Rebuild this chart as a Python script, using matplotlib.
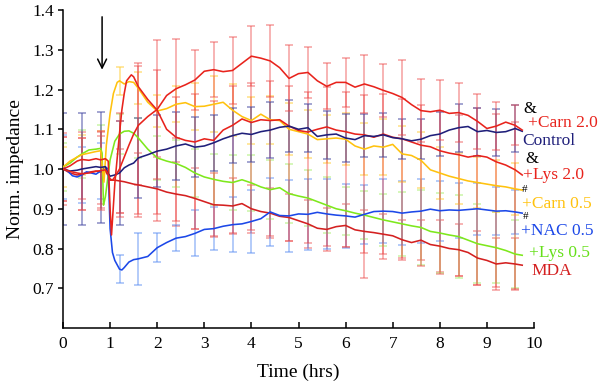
import numpy as np
import matplotlib
matplotlib.use("Agg")
import matplotlib.pyplot as plt

plt.rcParams['font.family'] = ['Liberation Serif', 'DejaVu Serif']

# ---------------- data ----------------
T_LATE = [1.6, 1.8, 2.0, 2.2, 2.4, 2.6, 2.8, 3.0, 3.2, 3.4, 3.6, 3.8, 4.0, 4.2, 4.4,
          4.6, 4.8, 5.0, 5.2, 5.4, 5.6, 5.8, 6.0, 6.2, 6.4, 6.6, 6.8, 7.0, 7.2, 7.4,
          7.6, 7.8, 8.0, 8.2, 8.4, 8.6, 8.8, 9.0, 9.2, 9.4, 9.6, 9.75]

# error-bar sample times (hrs)
T_ERR = [0.0, 0.4, 0.8, 1.2, 1.6, 2.0, 2.4, 2.8, 3.2, 3.6, 4.0, 4.4, 4.8, 5.2, 5.6,
         6.0, 6.4, 6.8, 7.2, 7.6, 8.0, 8.4, 8.8, 9.2, 9.6]

control_t_early = [0, 0.15, 0.3, 0.4, 0.55, 0.7, 0.8, 0.9, 0.95, 1.0, 1.1, 1.2, 1.3, 1.4, 1.5]
control_v_early = [1.0, 0.995, 0.997, 1.0, 1.003, 1.006, 1.004, 1.006, 0.99, 0.982, 0.985, 0.99, 1.003, 1.01, 1.015]
control_v_late = [1.028, 1.036, 1.045, 1.05, 1.058, 1.063, 1.055, 1.058, 1.066, 1.076, 1.084, 1.09,
                  1.087, 1.094, 1.098, 1.105, 1.108, 1.1, 1.104, 1.082, 1.086, 1.088, 1.078, 1.074,
                  1.084, 1.082, 1.086, 1.079, 1.076, 1.071, 1.075, 1.084, 1.088, 1.098, 1.104, 1.107,
                  1.094, 1.097, 1.092, 1.094, 1.102, 1.095]
control_err = [0.14, 0.14, 0.14, 0.13, 0.1, 0.09, 0.085, 0.075, 0.07, 0.07, 0.07, 0.07, 0.065,
               0.06, 0.06, 0.06, 0.055, 0.055, 0.05, 0.05, 0.055, 0.06, 0.06, 0.06, 0.06]

carn2_t_early = [0, 0.15, 0.3, 0.4, 0.55, 0.7, 0.8, 0.9, 0.95, 1.0, 1.05, 1.1, 1.2, 1.3, 1.4, 1.5]
carn2_v_early = [1.0, 0.994, 0.99, 0.988, 0.99, 0.994, 0.996, 0.998, 0.99, 0.975, 0.972, 0.98, 1.0, 1.03, 1.06, 1.088]
carn2_v_late = [1.11, 1.132, 1.15, 1.185, 1.202, 1.212, 1.224, 1.246, 1.25, 1.245, 1.248, 1.266,
                1.284, 1.279, 1.272, 1.255, 1.228, 1.24, 1.243, 1.222, 1.208, 1.218, 1.218, 1.206,
                1.214, 1.207, 1.198, 1.19, 1.18, 1.162, 1.147, 1.144, 1.148, 1.14, 1.142, 1.135,
                1.12, 1.102, 1.108, 1.118, 1.11, 1.098]
carn2_err = [0.09, 0.09, 0.1, 0.12, 0.15, 0.175, 0.125, 0.075, 0.07, 0.085, 0.076, 0.09, 0.083,
             0.065, 0.058, 0.062, 0.072, 0.067, 0.095, 0.08, 0.075, 0.075, 0.07, 0.06, 0.05]

lys2_t_early = [0, 0.15, 0.3, 0.4, 0.55, 0.7, 0.8, 0.9, 0.96, 1.0, 1.03, 1.1, 1.2, 1.25, 1.3, 1.35, 1.45, 1.5]
lys2_v_early = [1.0, 1.008, 1.02, 1.024, 1.022, 1.026, 1.023, 1.026, 1.02, 0.9, 0.834, 0.963, 1.09,
                1.149, 1.19, 1.222, 1.237, 1.232]
lys2_v_late = [1.207, 1.175, 1.148, 1.1, 1.08, 1.072, 1.068, 1.076, 1.072, 1.098, 1.11, 1.126,
               1.117, 1.124, 1.122, 1.124, 1.108, 1.097, 1.093, 1.1, 1.106, 1.098, 1.094, 1.088,
               1.086, 1.08, 1.088, 1.08, 1.076, 1.068, 1.06, 1.056, 1.046, 1.04, 1.036, 1.03,
               1.034, 1.03, 1.018, 1.01, 0.998, 0.985]
lys2_err_low = [0.08, 0.1, 0.11, 0.2, 0.32, 0.26, 0.21, 0.22, 0.24, 0.27, 0.27, 0.29, 0.29, 0.28,
                0.3, 0.29, 0.36, 0.315, 0.3, 0.305, 0.31, 0.305, 0.325, 0.315, 0.3]
lys2_err_high = [0.08, 0.07, 0.07, 0.05, 0.06, 0.1, 0.1, 0.12, 0.1, 0.1, 0.1, 0.1, 0.1, 0.1, 0.1,
                 0.1, 0.1, 0.1, 0.1, 0.1, 0.1, 0.1, 0.12, 0.12, 0.12]

carn05_t_early = [0, 0.15, 0.3, 0.4, 0.55, 0.7, 0.8, 0.84, 0.87, 0.92, 1.0, 1.07, 1.15, 1.2, 1.3, 1.4, 1.5]
carn05_v_early = [1.005, 1.02, 1.03, 1.036, 1.04, 1.044, 1.046, 1.0, 0.967, 1.06, 1.14, 1.19, 1.218,
                  1.222, 1.214, 1.22, 1.218]
carn05_v_late = [1.203, 1.168, 1.146, 1.152, 1.163, 1.167, 1.157, 1.158, 1.163, 1.168, 1.148, 1.132,
                 1.122, 1.138, 1.124, 1.122, 1.1, 1.094, 1.088, 1.074, 1.076, 1.078, 1.075, 1.058,
                 1.05, 1.058, 1.055, 1.062, 1.038, 1.034, 1.022, 0.998, 0.99, 0.982, 0.976, 0.97,
                 0.966, 0.962, 0.958, 0.955, 0.95, 0.947]
carn05_err = [0.05, 0.05, 0.05, 0.035, 0.04, 0.04, 0.045, 0.06, 0.07, 0.065, 0.06, 0.06, 0.065,
              0.06, 0.06, 0.065, 0.065, 0.07, 0.07, 0.07, 0.065, 0.065, 0.065, 0.065, 0.065]

lys05_t_early = [0, 0.15, 0.3, 0.4, 0.55, 0.7, 0.8, 0.83, 0.86, 0.9, 1.0, 1.1, 1.2, 1.3, 1.4, 1.5]
lys05_v_early = [1.005, 1.015, 1.03, 1.038, 1.048, 1.05, 1.052, 1.04, 0.909, 0.93, 1.023, 1.07,
                 1.088, 1.095, 1.096, 1.09]
lys05_v_late = [1.078, 1.05, 1.028, 1.02, 1.014, 1.004, 0.99, 0.98, 0.974, 0.969, 0.966, 0.973,
                0.965, 0.955, 0.948, 0.953, 0.938, 0.932, 0.927, 0.918, 0.909, 0.9, 0.895, 0.889,
                0.884, 0.878, 0.872, 0.867, 0.862, 0.857, 0.853, 0.843, 0.839, 0.834, 0.83, 0.821,
                0.812, 0.807, 0.802, 0.795, 0.786, 0.783]
lys05_err = [0.06, 0.06, 0.06, 0.05, 0.05, 0.055, 0.06, 0.06, 0.065, 0.07, 0.07, 0.075, 0.075,
             0.07, 0.07, 0.06, 0.06, 0.065, 0.08, 0.095, 0.1, 0.105, 0.1, 0.09, 0.086]

nac_t_early = [0, 0.1, 0.2, 0.3, 0.4, 0.5, 0.6, 0.7, 0.8, 0.9, 0.96, 1.0, 1.05, 1.1, 1.2, 1.25, 1.3, 1.4, 1.5]
nac_v_early = [1.005, 0.995, 0.983, 0.98, 0.985, 0.993, 0.99, 0.987, 0.995, 1.005, 1.0, 0.85, 0.79,
               0.77, 0.748, 0.746, 0.752, 0.766, 0.772]
nac_v_late = [0.774, 0.78, 0.802, 0.815, 0.826, 0.83, 0.838, 0.848, 0.85, 0.856, 0.86, 0.862,
              0.868, 0.875, 0.892, 0.883, 0.882, 0.887, 0.886, 0.891, 0.887, 0.884, 0.882, 0.879,
              0.886, 0.893, 0.894, 0.893, 0.889, 0.892, 0.894, 0.899, 0.895, 0.897, 0.896, 0.898,
              0.9, 0.897, 0.894, 0.895, 0.892, 0.889]
nac_err = [0.08, 0.07, 0.07, 0.035, 0.065, 0.037, 0.033, 0.058, 0.054, 0.07, 0.08, 0.085, 0.09,
           0.09, 0.087, 0.08, 0.075, 0.08, 0.08, 0.08, 0.075, 0.07, 0.065, 0.06, 0.055]

mda_t_early = [0, 0.15, 0.3, 0.4, 0.55, 0.7, 0.8, 0.9, 0.95, 1.0, 1.1, 1.2, 1.3, 1.4, 1.5]
mda_v_early = [1.0, 0.99, 0.985, 0.987, 0.992, 0.995, 0.993, 0.995, 0.985, 0.972, 0.972, 0.97,
               0.968, 0.965, 0.962]
mda_v_late = [0.96, 0.955, 0.95, 0.942, 0.937, 0.933, 0.926, 0.918, 0.91, 0.909, 0.907, 0.913,
              0.9, 0.893, 0.889, 0.881, 0.878, 0.87, 0.862, 0.851, 0.848, 0.855, 0.858, 0.847,
              0.843, 0.84, 0.836, 0.832, 0.822, 0.815, 0.821, 0.81, 0.806, 0.8, 0.797, 0.79,
              0.776, 0.77, 0.761, 0.764, 0.761, 0.758]
mda_err = [0.08, 0.09, 0.09, 0.08, 0.08, 0.08, 0.08, 0.076, 0.08, 0.07, 0.06, 0.063, 0.06, 0.06,
           0.055, 0.054, 0.055, 0.05, 0.05, 0.05, 0.065, 0.065, 0.067, 0.065, 0.065]

labels = ["+Carn 2.0", "Control", "+Lys 2.0", "+Carn 0.5", "+NAC 0.5", "+Lys 0.5", "MDA"]

# ---------------- figure ----------------
fig = plt.figure(figsize=(6.0, 3.87), dpi=100)
ax = fig.add_axes([0.105, 0.1525, 0.785, 0.8215])

RED = '#e8231c'
series = [
    # t_early, v_early, v_late, err, line colour, errorbar colour, alpha
    (mda_t_early, mda_v_early, mda_v_late, mda_err, '#d42020', '#ec4a4a', 0.45),
    (lys05_t_early, lys05_v_early, lys05_v_late, lys05_err, '#7ee81c', '#a6ee6a', 0.5),
    (nac_t_early, nac_v_early, nac_v_late, nac_err, '#1c48e8', '#5d8ff2', 0.5),
    (carn05_t_early, carn05_v_early, carn05_v_late, carn05_err, '#ffc20e', '#ffd040', 0.55),
    (lys2_t_early, lys2_v_early, lys2_v_late, [lys2_err_low, lys2_err_high], RED, '#ec4a4a', 0.45),
    (control_t_early, control_v_early, control_v_late, control_err, '#1f1f7a', '#4a4ea6', 0.55),
    (carn2_t_early, carn2_v_early, carn2_v_late, carn2_err, RED, '#ec4a4a', 0.45),
]

t_err_arr = np.round(np.array(T_ERR), 3)
for t_e, v_e, v_l, err, lc, ec, al in series:
    t = np.array(list(t_e) + T_LATE)
    v = np.array(list(v_e) + v_l)
    mask = np.isin(np.round(t, 3), t_err_arr)
    ax.errorbar(t[mask], v[mask], yerr=np.array(err), fmt='none', ecolor=ec, alpha=al,
                elinewidth=1.3, capsize=3.2, capthick=1.3, zorder=1)

for t_e, v_e, v_l, err, lc, ec, al in series:
    t = np.array(list(t_e) + T_LATE)
    v = np.array(list(v_e) + v_l)
    ax.plot(t, v, color=lc, lw=1.15, zorder=3)

ax.set_xlim(0, 10)
ax.set_ylim(0.6, 1.4)
ax.set_xticks(range(0, 11))
ax.set_yticks([0.7, 0.8, 0.9, 1.0, 1.1, 1.2, 1.3, 1.4])
ax.set_yticklabels(['0.7', '0.8', '0.9', '1.0', '1.1', '1.2', '1.3', '1.4'])
for s in ['top', 'right']:
    ax.spines[s].set_visible(False)
for s in ['left', 'bottom']:
    ax.spines[s].set_linewidth(1.1)
ax.tick_params(axis='y', direction='out', length=3.5, width=1.1, labelsize=12.5, pad=3)
ax.tick_params(axis='x', direction='in', length=4, width=1.1, labelsize=12.5, pad=6)
ax.set_xlabel('Time (hrs)', fontsize=14, labelpad=8)
ax.set_ylabel('Norm. impedance', fontsize=14, labelpad=6)

# arrow marking treatment
ax.annotate('', xy=(0.83, 1.243), xytext=(0.83, 1.39),
            arrowprops=dict(arrowstyle='->', color='black', lw=1.1, mutation_scale=16))

# right-hand labels
lab_pos = [(9.87, 1.116, RED), (9.75, 1.071, '#1f1f7a'), (9.77, 0.985, RED),
           (9.75, 0.913, '#ffc20e'), (9.72, 0.845, '#1c48e8'), (9.89, 0.789, '#66e01a'),
           (9.94, 0.744, '#d42020')]
for (x, y, c), lab in zip(lab_pos, labels):
    ax.text(x, y, lab, color=c, fontsize=12.5, ha='left', va='center', clip_on=False)
for x, y, s, fs in [(9.77, 1.152, '&', 12), (9.81, 1.024, '&', 12),
                    (9.75, 0.948, '#', 8), (9.77, 0.881, '#', 8)]:
    ax.text(x, y, s, color='black', fontsize=fs, ha='left', va='center', clip_on=False)

fig.savefig('out.png', dpi=100)
